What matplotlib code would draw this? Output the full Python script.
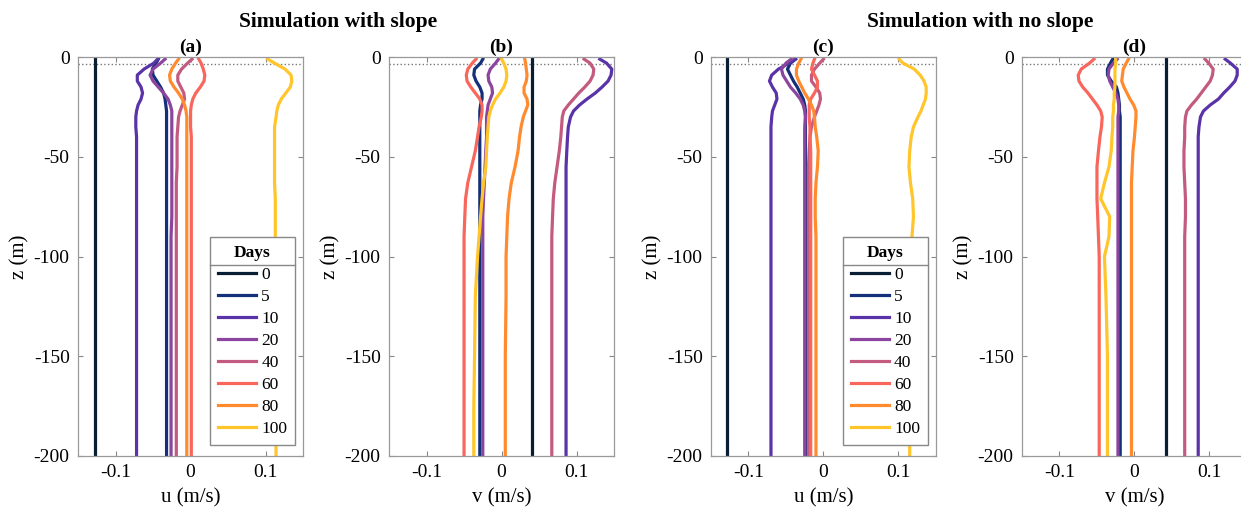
import matplotlib
matplotlib.use('Agg')
import matplotlib.pyplot as plt
from matplotlib.ticker import FuncFormatter
from matplotlib.lines import Line2D

plt.rcParams['font.family'] = ['Liberation Serif', 'DejaVu Serif']
plt.rcParams['axes.unicode_minus'] = False

# 曲线时间（天）与颜色
days = [0, 5, 10, 20, 40, 60, 80, 100]
line_colors = ['#0a1e33', '#14307a', '#5a33a8', '#8c459e',
               '#c35a80', '#f8665c', '#ff8b2e', '#ffc52b']

# 深度采样点 (m)
depth = [-1, -3, -6, -9, -12, -15, -18, -21, -24, -27, -30, -35, -40,
         -47, -55, -63, -71, -80, -90, -100, -120, -150, -175, -200]

# (a) u, with slope
u_slope = {
    0:   [-0.128] * 24,
    5:   [-0.043, -0.046, -0.051, -0.050, -0.045, -0.040, -0.036, -0.034, -0.033, -0.032, -0.032, -0.032,
          -0.032, -0.032, -0.032, -0.032, -0.032, -0.032, -0.032, -0.032, -0.032, -0.032, -0.032, -0.032],
    10:  [-0.044, -0.049, -0.062, -0.071, -0.071, -0.066, -0.064, -0.066, -0.070, -0.072, -0.073, -0.073,
          -0.072, -0.072, -0.072, -0.072, -0.072, -0.072, -0.072, -0.072, -0.072, -0.072, -0.072, -0.072],
    20:  [-0.034, -0.040, -0.050, -0.054, -0.050, -0.043, -0.036, -0.030, -0.027, -0.025, -0.025, -0.025,
          -0.025, -0.025, -0.025, -0.025, -0.025, -0.025, -0.026, -0.026, -0.026, -0.026, -0.026, -0.026],
    40:  [0.002, -0.004, -0.012, -0.017, -0.017, -0.013, -0.009, -0.008, -0.011, -0.014, -0.016, -0.017,
          -0.018, -0.018, -0.018, -0.019, -0.019, -0.019, -0.019, -0.019, -0.019, -0.019, -0.019, -0.019],
    60:  [0.011, 0.014, 0.017, 0.019, 0.018, 0.013, 0.007, 0.003, 0.001, 0.000, 0.000, 0.000,
          0.001, 0.001, 0.001, 0.001, 0.001, 0.001, 0.001, 0.001, 0.001, 0.001, 0.001, 0.001],
    80:  [-0.016, -0.020, -0.025, -0.028, -0.027, -0.022, -0.016, -0.011, -0.008, -0.006, -0.005, -0.005,
          -0.005, -0.005, -0.005, -0.005, -0.005, -0.005, -0.005, -0.005, -0.005, -0.005, -0.005, -0.005],
    100: [0.103, 0.112, 0.126, 0.134, 0.135, 0.133, 0.127, 0.121, 0.117, 0.115, 0.114, 0.112,
          0.112, 0.112, 0.112, 0.112, 0.113, 0.113, 0.113, 0.114, 0.114, 0.114, 0.114, 0.114],
}

# (b) v, with slope
v_slope = {
    0:   [0.041] * 24,
    5:   [-0.025, -0.028, -0.036, -0.037, -0.034, -0.029, -0.026, -0.026, -0.028, -0.029, -0.029, -0.029,
          -0.029, -0.029, -0.029, -0.029, -0.029, -0.029, -0.029, -0.029, -0.029, -0.029, -0.029, -0.029],
    10:  [0.131, 0.140, 0.147, 0.146, 0.142, 0.134, 0.125, 0.114, 0.104, 0.096, 0.092, 0.089,
          0.088, 0.087, 0.086, 0.086, 0.086, 0.086, 0.086, 0.086, 0.086, 0.086, 0.086, 0.086],
    20:  [-0.004, -0.008, -0.015, -0.018, -0.017, -0.013, -0.012, -0.015, -0.018, -0.019, -0.020, -0.020,
          -0.020, -0.021, -0.022, -0.023, -0.024, -0.025, -0.025, -0.025, -0.025, -0.025, -0.025, -0.025],
    40:  [0.110, 0.118, 0.123, 0.122, 0.118, 0.111, 0.103, 0.096, 0.089, 0.083, 0.081, 0.080,
          0.079, 0.077, 0.074, 0.071, 0.069, 0.068, 0.067, 0.067, 0.067, 0.067, 0.067, 0.067],
    60:  [-0.034, -0.039, -0.045, -0.047, -0.046, -0.041, -0.035, -0.029, -0.026, -0.026, -0.027, -0.030,
          -0.032, -0.035, -0.040, -0.045, -0.048, -0.049, -0.050, -0.050, -0.050, -0.050, -0.050, -0.050],
    80:  [0.031, 0.032, 0.033, 0.034, 0.033, 0.030, 0.030, 0.034, 0.035, 0.032, 0.029, 0.026,
          0.024, 0.022, 0.018, 0.013, 0.010, 0.008, 0.007, 0.006, 0.006, 0.005, 0.005, 0.005],
    100: [0.000, 0.003, 0.006, 0.007, 0.006, 0.003, -0.002, -0.008, -0.012, -0.015, -0.017, -0.018,
          -0.019, -0.020, -0.021, -0.024, -0.026, -0.028, -0.030, -0.032, -0.035, -0.036, -0.037, -0.037],
}

# (c) u, no slope
u_noslope = {
    0:   [-0.128] * 24,
    5:   [-0.037, -0.044, -0.048, -0.044, -0.040, -0.035, -0.031, -0.027, -0.025, -0.024, -0.024, -0.024,
          -0.024, -0.024, -0.024, -0.024, -0.024, -0.024, -0.024, -0.024, -0.024, -0.024, -0.024, -0.024],
    10:  [-0.038, -0.046, -0.060, -0.069, -0.072, -0.068, -0.063, -0.062, -0.065, -0.068, -0.069, -0.070,
          -0.070, -0.070, -0.070, -0.070, -0.070, -0.070, -0.070, -0.070, -0.070, -0.070, -0.070, -0.070],
    20:  [-0.043, -0.050, -0.056, -0.054, -0.049, -0.044, -0.037, -0.031, -0.027, -0.025, -0.024, -0.025,
          -0.025, -0.025, -0.025, -0.025, -0.025, -0.025, -0.025, -0.025, -0.025, -0.025, -0.025, -0.025],
    40:  [0.000, -0.005, -0.012, -0.016, -0.016, -0.010, -0.005, -0.004, -0.006, -0.009, -0.012, -0.016,
          -0.018, -0.019, -0.020, -0.020, -0.020, -0.020, -0.020, -0.020, -0.020, -0.020, -0.020, -0.020],
    60:  [-0.012, -0.014, -0.016, -0.012, -0.008, -0.008, -0.012, -0.017, -0.019, -0.019, -0.019, -0.018,
          -0.018, -0.017, -0.017, -0.017, -0.017, -0.017, -0.017, -0.017, -0.017, -0.017, -0.017, -0.017],
    80:  [-0.030, -0.033, -0.036, -0.036, -0.033, -0.029, -0.025, -0.020, -0.016, -0.013, -0.012, -0.011,
          -0.009, -0.007, -0.008, -0.010, -0.011, -0.011, -0.010, -0.010, -0.010, -0.010, -0.010, -0.010],
    100: [0.101, 0.106, 0.121, 0.129, 0.134, 0.137, 0.137, 0.136, 0.133, 0.130, 0.126, 0.120,
          0.117, 0.115, 0.114, 0.116, 0.119, 0.120, 0.118, 0.116, 0.115, 0.115, 0.115, 0.115],
}

# (d) v, no slope
v_noslope = {
    0:   [0.042] * 24,
    5:   [-0.029, -0.032, -0.036, -0.036, -0.031, -0.024, -0.022, -0.021, -0.020, -0.020, -0.019, -0.019,
          -0.019, -0.019, -0.019, -0.019, -0.019, -0.019, -0.019, -0.019, -0.019, -0.019, -0.019, -0.019],
    10:  [0.121, 0.128, 0.137, 0.137, 0.134, 0.127, 0.119, 0.112, 0.101, 0.092, 0.088, 0.086,
          0.085, 0.085, 0.085, 0.085, 0.085, 0.085, 0.085, 0.085, 0.085, 0.085, 0.085, 0.085],
    20:  [-0.023, -0.028, -0.034, -0.035, -0.033, -0.029, -0.025, -0.022, -0.021, -0.021, -0.022, -0.022,
          -0.022, -0.022, -0.022, -0.022, -0.022, -0.022, -0.022, -0.022, -0.022, -0.022, -0.022, -0.022],
    40:  [0.094, 0.099, 0.105, 0.104, 0.101, 0.095, 0.089, 0.083, 0.076, 0.070, 0.068, 0.067,
          0.067, 0.066, 0.066, 0.067, 0.068, 0.068, 0.067, 0.067, 0.067, 0.067, 0.067, 0.067],
    60:  [-0.054, -0.060, -0.071, -0.075, -0.074, -0.069, -0.062, -0.056, -0.050, -0.045, -0.043, -0.044,
          -0.046, -0.048, -0.050, -0.050, -0.050, -0.049, -0.048, -0.047, -0.047, -0.047, -0.047, -0.047],
    80:  [-0.008, -0.011, -0.015, -0.016, -0.017, -0.014, -0.010, -0.006, -0.001, 0.002, 0.002, 0.001,
          0.000, -0.002, -0.003, -0.004, -0.004, -0.004, -0.004, -0.004, -0.004, -0.004, -0.004, -0.004],
    100: [-0.025, -0.025, -0.026, -0.026, -0.026, -0.026, -0.027, -0.027, -0.028, -0.028, -0.029, -0.029,
          -0.030, -0.031, -0.034, -0.040, -0.045, -0.033, -0.034, -0.040, -0.038, -0.036, -0.036, -0.036],
}

mld_depth = -3.5
xticks = [-0.1, 0, 0.1]
zticks = [0, -50, -100, -150, -200]

panels = [
    ('(a)', u_slope, 'u (m/s)', 0.0629, True),
    ('(b)', v_slope, 'v (m/s)', 0.3135, False),
    ('(c)', u_noslope, 'u (m/s)', 0.5729, True),
    ('(d)', v_noslope, 'v (m/s)', 0.8235, False),
]

fig = plt.figure(figsize=(12.41, 5.12), dpi=100)
fmt = FuncFormatter(lambda v, p: f'{v:g}')
legends = []

for tag, series, xlabel, left, show_leg in panels:
    ax = fig.add_axes([left, 0.1094, 0.1813, 0.779])
    for d, c in zip(days, line_colors):
        ax.plot(series[d], depth, color=c, lw=2.3, label=str(d))
    ax.axhline(mld_depth, color='#777777', ls=':', lw=1.0, zorder=0)
    ax.set_xlim(-0.15, 0.15)
    ax.set_ylim(-200, 0)
    ax.set_xticks(xticks)
    ax.set_yticks(zticks)
    ax.xaxis.set_major_formatter(fmt)
    ax.yaxis.set_major_formatter(fmt)
    ax.tick_params(direction='in', top=True, right=True, length=3.5, width=0.8,
                   color='#888888', labelsize=14, pad=6)
    for sp in ax.spines.values():
        sp.set_color('#999999')
        sp.set_linewidth(0.9)
    ax.set_xlabel(xlabel, fontsize=15, labelpad=5)
    ax.set_ylabel('z (m)', fontsize=15, labelpad=3)
    ax.set_title(tag, fontsize=14, fontweight='bold', pad=4)
    if show_leg:
        leg = ax.legend(title='Days', loc='lower right', bbox_to_anchor=(0.964, 0.028),
                        borderaxespad=0, fontsize=12.5, title_fontproperties={'weight': 'bold', 'size': 12.5},
                        fancybox=False, framealpha=1, edgecolor='#888888',
                        handlelength=2.2, handletextpad=0.3, labelspacing=0.34,
                        borderpad=0.45)
        leg.get_frame().set_linewidth(1.0)
        legends.append(leg)

fig.text(338 / 1241, 1 - 22 / 512, 'Simulation with slope', ha='center', va='center',
         fontsize=15.5, fontweight='bold')
fig.text(980 / 1241, 1 - 22 / 512, 'Simulation with no slope', ha='center', va='center',
         fontsize=15.5, fontweight='bold')

# 图例标题下的分隔线（MATLAB风格）
fig.canvas.draw()
inv = fig.transFigure.inverted()
for leg in legends:
    bb = leg.get_frame().get_window_extent()
    tb = leg.get_title().get_window_extent()
    y_sep = tb.y0 - 4
    (x0, y0) = inv.transform((bb.x0, y_sep))
    (x1, _) = inv.transform((bb.x1, y_sep))
    fig.add_artist(Line2D([x0, x1], [y0, y0], color='#888888', lw=1.0, transform=fig.transFigure))

fig.savefig('out.png', dpi=100)
plt.close(fig)
